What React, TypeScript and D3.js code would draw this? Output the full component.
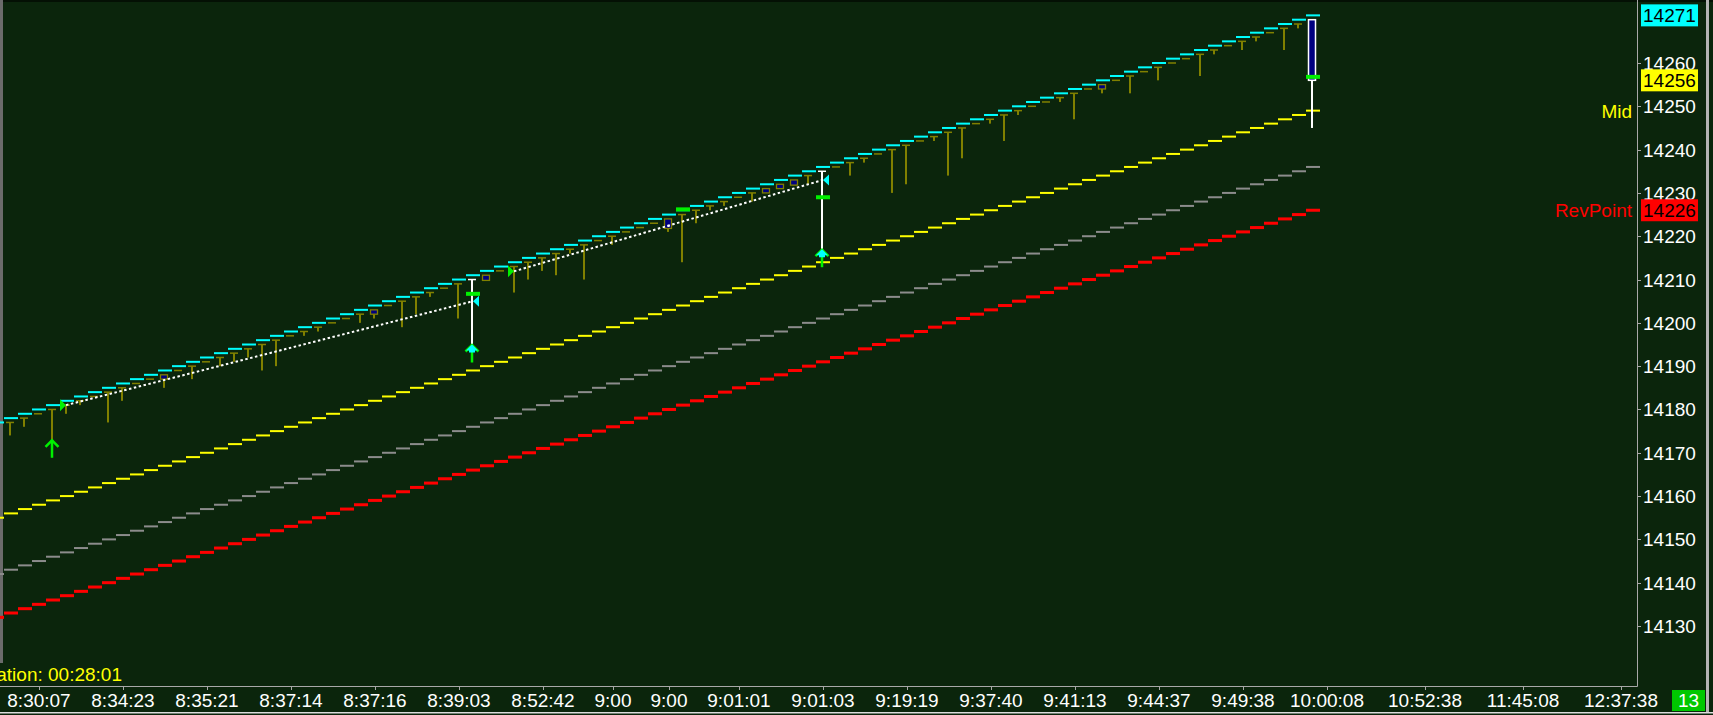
import React from 'react';
import * as d3 from 'd3';

// ---------- data ----------
// bar index -1 .. 93 (index 0 of these arrays is bar -1)
const firstBar = -1;
const highLevels = [
  14177, 14178, 14179, 14180, 14181, 14182, 14183, 14184, 14185, 14186,
  14187, 14188, 14189, 14190, 14191, 14192, 14193, 14194, 14195, 14196,
  14197, 14198, 14199, 14200, 14201, 14202, 14203, 14204, 14205, 14206,
  14207, 14208, 14209, 14210, 14211, 14212, 14213, 14214, 14215, 14216,
  14217, 14218, 14219, 14220, 14221, 14222, 14223, 14224, 14225, 14226,
  14227, 14228, 14229, 14230, 14231, 14232, 14233, 14234, 14235, 14236,
  14237, 14238, 14239, 14240, 14241, 14242, 14243, 14244, 14245, 14246,
  14247, 14248, 14249, 14250, 14251, 14252, 14253, 14254, 14255, 14256,
  14257, 14258, 14259, 14260, 14261, 14262, 14263, 14264, 14265, 14266,
  14267, 14268, 14269, 14270, 14271,
];
const midLevels = [
  14155, 14156, 14157, 14158, 14159, 14160, 14161, 14162, 14163, 14164,
  14165, 14166, 14167, 14168, 14169, 14170, 14171, 14172, 14173, 14174,
  14175, 14176, 14177, 14178, 14179, 14180, 14181, 14182, 14183, 14184,
  14185, 14186, 14187, 14188, 14189, 14190, 14191, 14192, 14193, 14194,
  14195, 14196, 14197, 14198, 14199, 14200, 14201, 14202, 14203, 14204,
  14205, 14206, 14207, 14208, 14209, 14210, 14211, 14212, 14213, 14214,
  14215, 14216, 14217, 14218, 14219, 14220, 14221, 14222, 14223, 14224,
  14225, 14226, 14227, 14228, 14229, 14230, 14231, 14232, 14233, 14234,
  14235, 14236, 14237, 14238, 14239, 14240, 14241, 14242, 14243, 14244,
  14245, 14246, 14247, 14248, 14249,
];
const grayLevels = [
  14142, 14143, 14144, 14145, 14146, 14147, 14148, 14149, 14150, 14151,
  14152, 14153, 14154, 14155, 14156, 14157, 14158, 14159, 14160, 14161,
  14162, 14163, 14164, 14165, 14166, 14167, 14168, 14169, 14170, 14171,
  14172, 14173, 14174, 14175, 14176, 14177, 14178, 14179, 14180, 14181,
  14182, 14183, 14184, 14185, 14186, 14187, 14188, 14189, 14190, 14191,
  14192, 14193, 14194, 14195, 14196, 14197, 14198, 14199, 14200, 14201,
  14202, 14203, 14204, 14205, 14206, 14207, 14208, 14209, 14210, 14211,
  14212, 14213, 14214, 14215, 14216, 14217, 14218, 14219, 14220, 14221,
  14222, 14223, 14224, 14225, 14226, 14227, 14228, 14229, 14230, 14231,
  14232, 14233, 14234, 14235, 14236,
];
const revPointLevels = [
  14132, 14133, 14134, 14135, 14136, 14137, 14138, 14139, 14140, 14141,
  14142, 14143, 14144, 14145, 14146, 14147, 14148, 14149, 14150, 14151,
  14152, 14153, 14154, 14155, 14156, 14157, 14158, 14159, 14160, 14161,
  14162, 14163, 14164, 14165, 14166, 14167, 14168, 14169, 14170, 14171,
  14172, 14173, 14174, 14175, 14176, 14177, 14178, 14179, 14180, 14181,
  14182, 14183, 14184, 14185, 14186, 14187, 14188, 14189, 14190, 14191,
  14192, 14193, 14194, 14195, 14196, 14197, 14198, 14199, 14200, 14201,
  14202, 14203, 14204, 14205, 14206, 14207, 14208, 14209, 14210, 14211,
  14212, 14213, 14214, 14215, 14216, 14217, 14218, 14219, 14220, 14221,
  14222, 14223, 14224, 14225, 14226,
];
// lows of bars 0..93 (null = no wick below the open)
const barLows: (number | null)[] = [
  14174, 14176, null, 14173, 14179, 14181, null, 14177, 14182, null,
  null, 14185, null, 14187, null, 14190, 14191, 14192, 14189, 14190,
  null, 14197, 14198, null, null, 14200, 14201, null, 14199, 14202,
  14206, null, 14201, 14195, null, null, 14207, 14210, 14212, 14211,
  14216, 14210, null, 14218, null, null, null, 14221, 14214, 14223,
  14226, 14227, null, 14228, null, null, null, 14232, 14214, null,
  14234, 14237, null, 14230, 14232, null, 14242, 14234, 14238, null,
  14246, 14242, 14248, null, null, 14251, 14247, null, 14253, null,
  14253, null, 14256, null, null, 14257, 14262, null, 14263, 14265,
  null, 14263, 14268, 14245,
];
const boxBars = [
  { bar: 11, top: 14188, bottom: 14187 },
  { bar: 26, top: 14203, bottom: 14202 },
  { bar: 34, top: 14211, bottom: 14209.8 },
  { bar: 47, top: 14224, bottom: 14221.8 },
  { bar: 54, top: 14231, bottom: 14230 },
  { bar: 55, top: 14232, bottom: 14231 },
  { bar: 56, top: 14233, bottom: 14231.8 },
  { bar: 78, top: 14255, bottom: 14254 },
];
const boxDots = [{ bar: 47, value: 14222.4 }];
const whiteBars = [33, 58];
const whiteLows = [14195, 14217];
const lastBar = { bar: 93, open: 14270, close: 14256, low: 14245 };
const greenMarks = [
  { bar: 33, value: 14206.7 },
  { bar: 48, value: 14226.2 },
  { bar: 58, value: 14229 },
  { bar: 93, value: 14256.8 },
];
const cyanLeftTriangles = [{ bar: 33, value: 14205 }, { bar: 58, value: 14233 }];
const greenRightTriangles = [{ bar: 4, value: 14181 }, { bar: 36, value: 14211.9 }];
const greenUpArrows = [{ bar: 3, value: 14173 }, { bar: 33, value: 14195 }, { bar: 58, value: 14217 }];
const cyanUpArrows = [{ bar: 33, value: 14195 }, { bar: 58, value: 14217 }];
const trendLines = [
  { fromBar: 4, fromValue: 14181, toBar: 33, toValue: 14205 },
  { fromBar: 36, fromValue: 14211.9, toBar: 58, toValue: 14233 },
];
const xLabels = [
  { bar: 2, label: '8:30:07' }, { bar: 8, label: '8:34:23' }, { bar: 14, label: '8:35:21' },
  { bar: 20, label: '8:37:14' }, { bar: 26, label: '8:37:16' }, { bar: 32, label: '8:39:03' },
  { bar: 38, label: '8:52:42' }, { bar: 43, label: '9:00' }, { bar: 47, label: '9:00' },
  { bar: 52, label: '9:01:01' }, { bar: 58, label: '9:01:03' }, { bar: 64, label: '9:19:19' },
  { bar: 70, label: '9:37:40' }, { bar: 76, label: '9:41:13' }, { bar: 82, label: '9:44:37' },
  { bar: 88, label: '9:49:38' }, { bar: 94, label: '10:00:08' }, { bar: 101, label: '10:52:38' },
  { bar: 108, label: '11:45:08' }, { bar: 115, label: '12:37:38' },
];
const yTicks = [14130, 14140, 14150, 14160, 14170, 14180, 14190, 14200, 14210, 14220, 14230, 14240, 14250, 14260];
const priceBoxes = [
  { value: 14271, label: '14271', color: '#00ffff' },
  { value: 14256, label: '14256', color: '#ffff00' },
  { value: 14226, label: '14226', color: '#ff0000' },
];
const plotLabels = [
  { value: 14249, label: 'Mid', color: '#ffff00' },
  { value: 14226, label: 'RevPoint', color: '#ff0000' },
];
const durationText = 'Duration: 00:28:01';
const barCounterText = '13';

// ---------- style ----------
const BG = '#0b250c';
const CYAN = '#00ffff';
const YELLOW = '#ffff00';
const GRAY = '#8c8c8c';
const RED = '#ff0000';
const OLIVE = '#808000';
const NAVY = '#000080';
const GREEN = '#00f000';
const AXIS = '#a8a8a8';
const FONT = "'Liberation Sans', Arial, sans-serif";
const FS = 19;

export default function App() {
  const W = 1713;
  const H = 715;
  const plotRight = 1637;
  const plotBottom = 686;
  const x = d3.scaleLinear().domain([0, 93]).range([11, 1313]);
  const y = d3.scaleLinear().domain([14130, 14260]).range([626, 63]);
  const half = (x(1) - x(0)) / 2;

  const stepLine = (levels: number[], color: string, thick: number, key: string) =>
    levels.map((v, i) => (
      <rect key={key + i} x={x(firstBar + i) - half} y={y(v) - thick / 2} width={half * 2} height={thick} fill={color} />
    ));

  const bars = barLows.map((low, b) => {
    const gc = x(b) - 1;
    const open = highLevels[b]; // open of a brick = high of the previous brick
    if (b === lastBar.bar || whiteBars.includes(b)) return null;
    const box = boxBars.find((d) => d.bar === b);
    if (box) {
      return (
        <g key={'b' + b}>
          {low !== null && (
            <rect x={gc - 1} y={y(box.bottom)} width={2} height={y(low) - y(box.bottom)} fill={OLIVE} />
          )}
          <rect x={gc - 3.5} y={y(box.top)} width={7} height={y(box.bottom) - y(box.top)} fill={NAVY} stroke={OLIVE} strokeWidth={1.3} />
        </g>
      );
    }
    return (
      <g key={'b' + b}>
        <rect x={gc - 4} y={y(open) - 0.75} width={8} height={1.5} fill={OLIVE} />
        {low !== null && <rect x={gc - 1} y={y(open)} width={2} height={y(low) - y(open)} fill={OLIVE} />}
      </g>
    );
  });

  const white = whiteBars.map((b, i) => {
    const gc = x(b) - 1;
    const open = highLevels[b];
    return (
      <g key={'w' + b}>
        <rect x={gc - 4} y={y(open) - 0.75} width={8} height={1.5} fill="#ffffff" />
        <rect x={gc - 1} y={y(open)} width={2} height={y(whiteLows[i]) - y(open)} fill="#ffffff" />
      </g>
    );
  });

  const lgc = x(lastBar.bar) - 1;

  return (
    <svg width={W} height={H} style={{ position: 'fixed', left: 0, top: 0, display: 'block' }}>
      <defs>
        <clipPath id="plotClip">
          <rect x={0} y={0} width={plotRight} height={plotBottom} />
        </clipPath>
      </defs>
      <rect x={0} y={0} width={W} height={H} fill={BG} />
      <rect x={0} y={0} width={W} height={2} fill="#041004" />
      <rect x={0} y={0} width={3} height={663} fill="#6b6b6b" />

      <g clipPath="url(#plotClip)">
        {stepLine(revPointLevels, RED, 3, 'r')}
        {stepLine(grayLevels, GRAY, 2, 'g')}
        {stepLine(midLevels, YELLOW, 2, 'm')}
        {stepLine(highLevels, CYAN, 2, 'c')}
        {bars}
        {boxDots.map((d, i) => (
          <rect key={'bd' + i} x={x(d.bar) - 1.5} y={y(d.value) - 1} width={2} height={2} fill="#ffffff" />
        ))}
        {white}
        {/* last (current) bar */}
        <rect x={lgc - 1} y={y(lastBar.close)} width={2} height={y(lastBar.low) - y(lastBar.close)} fill="#ffffff" />
        <rect x={lgc - 3.5} y={y(lastBar.open)} width={7} height={y(lastBar.close) - y(lastBar.open)} fill={NAVY} stroke="#ffffff" strokeWidth={1.5} />

        {trendLines.map((t, i) => (
          <line key={'t' + i} x1={x(t.fromBar) - 1} y1={y(t.fromValue)} x2={x(t.toBar)} y2={y(t.toValue)}
            stroke="#ffffff" strokeWidth={2} strokeDasharray="2.5 2.5" />
        ))}

        {greenMarks.map((d, i) => (
          <rect key={'gm' + i} x={x(d.bar) - half} y={y(d.value) - 2} width={half * 2} height={4} fill={GREEN} />
        ))}
        {cyanLeftTriangles.map((d, i) => {
          const cx = x(d.bar);
          const cy = y(d.value);
          return <path key={'clt' + i} d={`M${cx},${cy} L${cx + 6},${cy - 5.5} L${cx + 6},${cy + 5.5} Z`} fill={CYAN} />;
        })}
        {greenRightTriangles.map((d, i) => {
          const cx = x(d.bar) - 1;
          const cy = y(d.value);
          return <path key={'grt' + i} d={`M${cx},${cy} L${cx - 6},${cy - 6} L${cx - 6},${cy + 6} Z`} fill={GREEN} />;
        })}
        {greenUpArrows.map((d, i) => {
          const cx = x(d.bar) - 1;
          const tip = y(d.value);
          return (
            <g key={'gua' + i}>
              <path d={`M${cx - 6.5},${tip + 7} L${cx},${tip + 0.5} L${cx + 6.5},${tip + 7}`} stroke={GREEN} strokeWidth={2.5} fill="none" />
              <rect x={cx - 1.25} y={tip} width={2.5} height={18} fill={GREEN} />
            </g>
          );
        })}
        {cyanUpArrows.map((d, i) => {
          const cx = x(d.bar) - 1;
          const t = y(d.value);
          return (
            <path key={'cua' + i}
              d={`M${cx},${t} L${cx + 6},${t + 6} L${cx + 3},${t + 6} L${cx + 3},${t + 8} L${cx - 3},${t + 8} L${cx - 3},${t + 6} L${cx - 6},${t + 6} Z`}
              fill={CYAN} />
          );
        })}
      </g>

      {/* frame */}
      <line x1={0} y1={plotBottom + 0.5} x2={plotRight + 0.5} y2={plotBottom + 0.5} stroke={AXIS} strokeWidth={1} />
      <line x1={plotRight + 0.5} y1={0} x2={plotRight + 0.5} y2={plotBottom + 0.5} stroke={AXIS} strokeWidth={1} />

      {/* y axis */}
      {yTicks.map((v) => (
        <g key={'yt' + v}>
          <line x1={plotRight} y1={Math.round(y(v)) + 0.5} x2={plotRight + 4} y2={Math.round(y(v)) + 0.5} stroke={AXIS} />
          <text x={1643} y={y(v) + 7} fill="#ffffff" fontFamily={FONT} fontSize={FS}>{v}</text>
        </g>
      ))}
      {priceBoxes.map((p) => (
        <g key={'pb' + p.value}>
          <rect x={1641} y={y(p.value) - 11} width={57} height={22} fill={p.color} />
          <text x={1643} y={y(p.value) + 7} fill="#000000" fontFamily={FONT} fontSize={FS}>{p.label}</text>
        </g>
      ))}
      {plotLabels.map((p) => (
        <text key={'pl' + p.label} x={1632} y={y(p.value) + 7} fill={p.color} fontFamily={FONT} fontSize={FS} textAnchor="end">
          {p.label}
        </text>
      ))}

      {/* x axis */}
      {xLabels.map((d, i) => (
        <g key={'xl' + i}>
          {x(d.bar) < plotRight && (
            <line x1={Math.round(x(d.bar)) + 0.5} y1={plotBottom} x2={Math.round(x(d.bar)) + 0.5} y2={plotBottom + 4} stroke={AXIS} />
          )}
          <text x={x(d.bar)} y={707} fill="#ffffff" fontFamily={FONT} fontSize={FS} textAnchor="middle">{d.label}</text>
        </g>
      ))}

      <text x={122} y={681} fill={YELLOW} fontFamily={FONT} fontSize={FS} textAnchor="end">{durationText}</text>

      <rect x={1672} y={690} width={33} height={21} fill="#00c800" />
      <text x={1688.5} y={707} fill="#ffffff" fontFamily={FONT} fontSize={FS} textAnchor="middle">{barCounterText}</text>

      <rect x={1706} y={0} width={3} height={713} fill="#b4b4b4" />
      <rect x={0} y={712} width={W} height={1.5} fill="#dcdcdc" />
    </svg>
  );
}
